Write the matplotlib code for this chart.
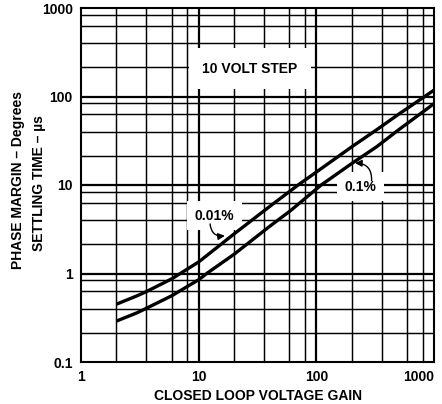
# Settling time vs closed loop voltage gain, 10 V step
# log-log chart with hand-spaced grid like the datasheet original

import numpy as np
import matplotlib
matplotlib.use('Agg')
import matplotlib.pyplot as plt

plt.rcParams['font.family'] = ['Liberation Sans', 'DejaVu Sans']
plt.rcParams['font.weight'] = 'bold'

# curves
gain_001 = [2, 3, 3.6, 5.9, 10, 20, 40, 70, 100, 200, 325, 500, 1000]
settle_001 = [0.45, 0.56, 0.625, 0.87, 1.35, 2.8, 5.7, 10, 14, 27, 42, 63, 118]

gain_01 = [2, 3, 3.6, 5.9, 10, 11.7, 20, 40, 60, 110, 200, 325, 500, 1000]
settle_01 = [0.29, 0.36, 0.405, 0.56, 0.85, 1.0, 1.65, 3.4, 5.1, 10, 17.5, 27, 42, 83]

# grid positions inside each decade (as drawn in the original)
x_minor = [2, 3.6, 5.9, 8]
y_minor = [2.15, 4, 6.3, 8.4]
x_decades = [1, 10, 100, 1000]
y_decades = [0.1, 1, 10, 100, 1000]

x_ticks = [1, 10, 100, 1000]
x_ticklabels = ['1', '10', '100', '1000']
y_ticks = [0.1, 1, 10, 100, 1000]
y_ticklabels = ['0.1', '1', '10', '100', '1000']

FS = 10

fig = plt.figure(figsize=(4.42, 4.04), dpi=100, facecolor='white')
ax = fig.add_axes([81/442, 1 - 362/404, (434 - 81)/442, (362 - 8)/404])
ax.set_xscale('log')
ax.set_yscale('log')
ax.set_xlim(1, 1000)
ax.set_ylim(0.1, 1000)

for d in x_decades[:-1]:
    for m in x_minor:
        ax.axvline(d * m, color='black', lw=1.05, zorder=1)
for d in y_decades[:-1]:
    for m in y_minor:
        ax.axhline(d * m, color='black', lw=1.05, zorder=1)
for d in x_decades[1:-1]:
    ax.axvline(d, color='black', lw=1.6, zorder=1)
for d in y_decades[1:-1]:
    ax.axhline(d, color='black', lw=1.6, zorder=1)

ax.plot(gain_001, settle_001, color='black', lw=2.4, solid_capstyle='butt', zorder=4)
ax.plot(gain_01, settle_01, color='black', lw=2.4, solid_capstyle='butt', zorder=4)

ax.set_xticks(x_ticks)
ax.set_xticklabels(x_ticklabels)
ax.set_yticks(y_ticks)
ax.set_yticklabels(y_ticklabels)
ax.minorticks_off()
ax.tick_params(length=0, labelsize=FS, pad=6)
# last gain label sits at the right edge, keep it inside the picture
ax.get_xticklabels()[-1].set_horizontalalignment('right')
ax.get_xticklabels()[-1].set_x(1000)
for s in ax.spines.values():
    s.set_linewidth(1.5)
    s.set_zorder(5)

ax.set_xlabel('CLOSED LOOP VOLTAGE GAIN', fontsize=FS, fontweight='bold', labelpad=3)
fig.text(18/442, 1 - 180/404, 'PHASE MARGIN \u2013 Degrees', rotation=90,
         fontsize=FS, fontweight='bold', ha='center', va='center')
fig.text(39/442, 1 - 183/404, 'SETTLING TIME \u2013 \u00b5s', rotation=90,
         fontsize=FS, fontweight='bold', ha='center', va='center')

box = dict(boxstyle='square,pad=0.55', facecolor='white', edgecolor='none')
ax.text(27.3, 207, '10 VOLT STEP', fontsize=FS, fontweight='bold', ha='center', va='center',
        bbox=dict(boxstyle='square,pad=0.95', facecolor='white', edgecolor='none'), zorder=3)
ax.text(239, 9.6, '0.1%', fontsize=FS, fontweight='bold', ha='center', va='center',
        bbox=box, zorder=3)
ax.text(13.6, 4.51, '0.01%', fontsize=FS, fontweight='bold', ha='center', va='center',
        bbox=box, zorder=3)

arrow = dict(arrowstyle='-|>,head_length=0.4,head_width=0.2', color='black', lw=1.0,
             shrinkA=0, shrinkB=0)
ax.annotate('', xy=(213, 17.7), xytext=(295, 11.2),
            arrowprops=dict(arrow, connectionstyle='arc3,rad=0.5'), zorder=6)
ax.annotate('', xy=(16.7, 2.67), xytext=(12.5, 3.63),
            arrowprops=dict(arrow, connectionstyle='arc3,rad=0.5'), zorder=6)

fig.savefig('out.png', dpi=100, facecolor='white')
